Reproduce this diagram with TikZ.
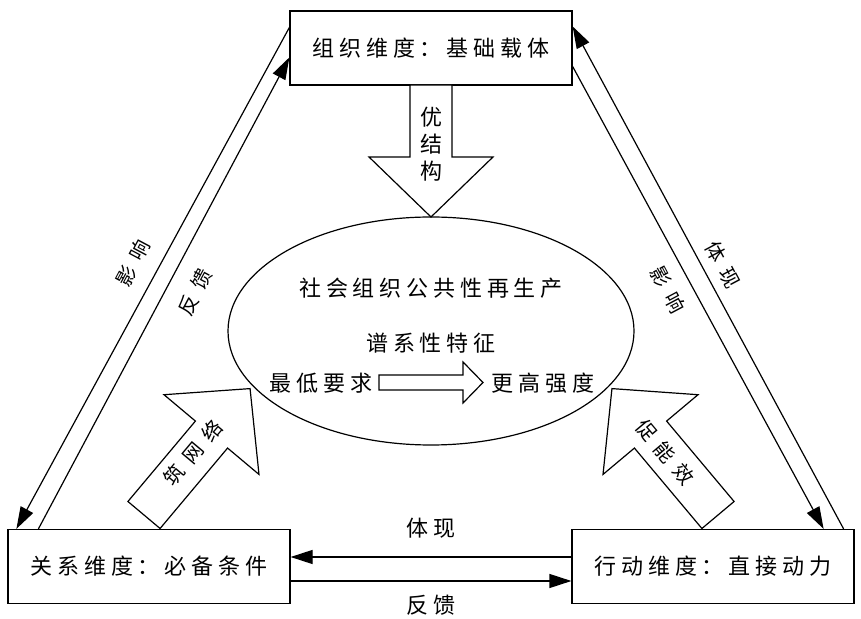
\documentclass[tikz,border=0pt]{standalone}
\usepackage{fontspec}
\newfontfamily\cjk[LetterSpace=22]{Noto Sans CJK SC}
\newfontfamily\cjkwide[LetterSpace=45]{Noto Sans CJK SC}
\usetikzlibrary{shapes.geometric,arrows.meta}

\begin{document}
\begin{tikzpicture}[x=1pt,y=1pt,line width=1.2pt,
      dimbox/.style={draw, minimum width=282pt, minimum height=74pt, inner sep=0pt,
        font=\cjk\fontsize{22}{26}\selectfont},
      txt/.style={font=\cjk\fontsize{22}{27}\selectfont, inner sep=0pt},
      lbl/.style={font=\cjkwide\fontsize{20}{24}\selectfont, inner sep=0pt},
      blk/.style={draw, fill=white, line join=miter},
      link/.style={-{Triangle[length=22pt,width=14pt]}}]
    \useasboundingbox (0,0) rectangle (861,618);
    % three dimensions
    \node[dimbox] (org) at (431,570) {组织维度：基础载体};
    \node[dimbox] (rel) at (149,51.5) {关系维度：必备条件};
    \node[dimbox] (act) at (713,51.5) {行动维度：直接动力};
    % core
    \node[draw, ellipse, minimum width=406pt, minimum height=228pt] (core) at (431,287) {};
    \node[txt] (pub) at (431,330) {社会组织公共性再生产};
    \node[txt] (gen) at (431,275) {谱系性特征};
    \node[txt, anchor=east] (low) at (373,235) {最低要求};
    \node[txt, anchor=west] (high) at (491,235) {更高强度};
    \begin{scope}[shift={(379,235.5)}]
      \draw[blk] (0,-7.5) -- (84,-7.5) -- (84,-20.5) -- (104,0) -- (84,20.5) -- (84,7.5) -- (0,7.5) -- cycle;
    \end{scope}
    % block arrows
    \begin{scope}[shift={(431,533)}, rotate=-90]
      \draw[blk] (0,-21) -- (72,-21) -- (72,-62) -- (132,0) -- (72,62) -- (72,21) -- (0,21) -- cycle;
    \end{scope}
    \node[txt, align=center] (opt) at (431,474) {优\\结\\构};
    \begin{scope}[shift={(144,103)}, rotate=50]
      \draw[blk] (0,-21) -- (105,-21) -- (105,-62) -- (165,0) -- (105,62) -- (105,21) -- (0,21) -- cycle;
    \end{scope}
    \node[lbl, rotate=50] (net) at (193,165) {筑网络};
    \begin{scope}[shift={(718,103)}, rotate=130]
      \draw[blk] (0,-21) -- (105,-21) -- (105,-62) -- (165,0) -- (105,62) -- (105,21) -- (0,21) -- cycle;
    \end{scope}
    \node[lbl, rotate=-50] (eff) at (665,166) {促能效};
    % links
    \draw[link] ([yshift=-17pt]org.north west) -- ([xshift=9pt]rel.north west);
    \draw[link] ([xshift=31pt]rel.north west) -- ([yshift=-47pt]org.north west);
    \draw[link] ([xshift=-11pt]act.north east) -- ([yshift=-16pt]org.north east);
    \draw[link] ([yshift=-56pt]org.north east) -- ([xshift=-31pt]act.north east);
    \draw[link] ([yshift=9.5pt]act.west) -- ([yshift=9.5pt]rel.east);
    \draw[link] ([yshift=-14.5pt]rel.east) -- ([yshift=-14.5pt]act.west);
    \node[lbl, rotate=62] (infl1) at (133,355) {影响};
    \node[lbl, rotate=62] (fb1) at (195,326) {反馈};
    \node[lbl, rotate=-62] (show1) at (723,353) {体现};
    \node[lbl, rotate=-62] (infl2) at (668,328) {影响};
    \node[txt] (show2) at (431,90) {体现};
    \node[txt] (fb2) at (431,13) {反馈};
\end{tikzpicture}
\end{document}
